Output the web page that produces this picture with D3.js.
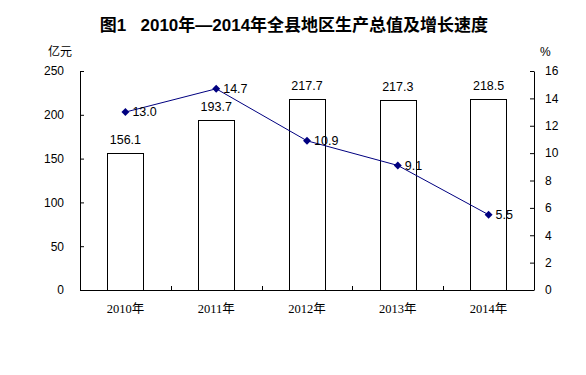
<!DOCTYPE html>
<html>
<head>
<meta charset="utf-8">
<script src="https://cdn.jsdelivr.net/npm/d3@7"></script>
<style>
  body { margin: 0; background: #fff; }
  svg text { font-family: "Liberation Sans", Arial, sans-serif; fill: #000; }
  .cjk { font-family: "Liberation Sans", "Noto Sans CJK SC", sans-serif; }
  .cat { font-family: "Liberation Serif", "Noto Sans CJK SC", serif; font-size: 12.5px; }
</style>
</head>
<body>
<svg id="chart" width="586" height="375"></svg>
<script>
// data
var years = ["2010年", "2011年", "2012年", "2013年", "2014年"];
var gdp = [156.1, 193.7, 217.7, 217.3, 218.5];      // 亿元
var growth = [13.0, 14.7, 10.9, 9.1, 5.5];          // %
var leftTicks = [0, 50, 100, 150, 200, 250];
var rightTicks = [0, 2, 4, 6, 8, 10, 12, 14, 16];

var svg = d3.select("#chart");

// plot box
var plotLeft = 80, plotRight = 534, plotTop = 71, plotBottom = 290;

var x = d3.scaleBand().domain(years).range([plotLeft, plotRight]).padding(0);
var yL = d3.scaleLinear().domain([0, 250]).range([plotBottom, plotTop]);
var yR = d3.scaleLinear().domain([0, 16]).range([plotBottom, plotTop]);
var barW = x.bandwidth() * 0.4;

function cx(i) { return x(years[i]) + x.bandwidth() / 2; }

// title
svg.append("text")
  .attr("class", "cjk")
  .attr("x", 294)
  .attr("y", 31)
  .attr("text-anchor", "middle")
  .style("font-size", "17px")
  .style("font-weight", "bold")
  .style("white-space", "pre")
  .text("图1   2010年—2014年全县地区生产总值及增长速度");

// unit labels
svg.append("text").attr("class", "cjk")
  .attr("x", 48).attr("y", 56).style("font-size", "12px").text("亿元");
svg.append("text")
  .attr("x", 540).attr("y", 56).style("font-size", "12px").text("%");

// bars
svg.selectAll("rect.bar")
  .data(gdp)
  .enter()
  .append("rect")
  .attr("class", "bar")
  .attr("x", function(d, i) { return Math.round(cx(i) - barW / 2) + 0.5; })
  .attr("y", function(d) { return Math.round(yL(d)) + 0.5; })
  .attr("width", Math.round(barW))
  .attr("height", function(d) { return plotBottom - Math.round(yL(d)); })
  .attr("fill", "#fff")
  .attr("stroke", "#000")
  .attr("stroke-width", 1);

svg.selectAll("text.barlabel")
  .data(gdp)
  .enter()
  .append("text")
  .attr("class", "barlabel")
  .attr("x", function(d, i) { return cx(i); })
  .attr("y", function(d) { return yL(d) - 9; })
  .attr("text-anchor", "middle")
  .style("font-size", "12.5px")
  .text(function(d) { return d.toFixed(1); });

// left axis
var axL = svg.append("g")
  .attr("transform", "translate(" + plotLeft + ",0)")
  .call(d3.axisLeft(yL).tickValues(leftTicks).tickSizeInner(-4).tickSizeOuter(0).tickPadding(16));

// right axis
var axR = svg.append("g")
  .attr("transform", "translate(" + plotRight + ",0)")
  .call(d3.axisRight(yR).tickValues(rightTicks).tickSizeInner(-4).tickSizeOuter(0).tickPadding(11));

[axL, axR].forEach(function(g) {
  g.attr("font-family", null).attr("font-size", null);
  g.select(".domain").attr("stroke", "#000");
  g.selectAll(".tick line").attr("stroke", "#000");
  g.selectAll("text").style("font-size", "12px").attr("fill", "#000");
});

// bottom axis: baseline, ticks between categories, labels
svg.append("line")
  .attr("x1", plotLeft).attr("x2", plotRight)
  .attr("y1", plotBottom + 0.5).attr("y2", plotBottom + 0.5)
  .attr("stroke", "#000");

svg.selectAll("line.xtick")
  .data(years.slice(1))
  .enter()
  .append("line")
  .attr("class", "xtick")
  .attr("x1", function(d) { return Math.round(x(d)) + 0.5; })
  .attr("x2", function(d) { return Math.round(x(d)) + 0.5; })
  .attr("y1", plotBottom)
  .attr("y2", plotBottom - 4)
  .attr("stroke", "#000");

svg.selectAll("text.cat")
  .data(years)
  .enter()
  .append("text")
  .attr("class", "cat")
  .attr("x", function(d, i) { return cx(i); })
  .attr("y", 313)
  .attr("text-anchor", "middle")
  .text(function(d) { return d; });

// growth line
var line = d3.line()
  .x(function(d, i) { return cx(i); })
  .y(function(d) { return yR(d); });

svg.append("path")
  .datum(growth)
  .attr("d", line)
  .attr("fill", "none")
  .attr("stroke", "#000080")
  .attr("stroke-width", 1);

svg.selectAll("path.marker")
  .data(growth)
  .enter()
  .append("path")
  .attr("class", "marker")
  .attr("d", d3.symbol().type(d3.symbolDiamond2).size(40))
  .attr("transform", function(d, i) {
    return "translate(" + cx(i) + "," + yR(d) + ")";
  })
  .attr("fill", "#000080");

svg.selectAll("text.linelabel")
  .data(growth)
  .enter()
  .append("text")
  .attr("class", "linelabel")
  .attr("x", function(d, i) { return cx(i) + 7; })
  .attr("y", function(d) { return yR(d); })
  .attr("dy", "0.35em")
  .style("font-size", "12.5px")
  .text(function(d) { return d.toFixed(1); });
</script>
</body>
</html>
